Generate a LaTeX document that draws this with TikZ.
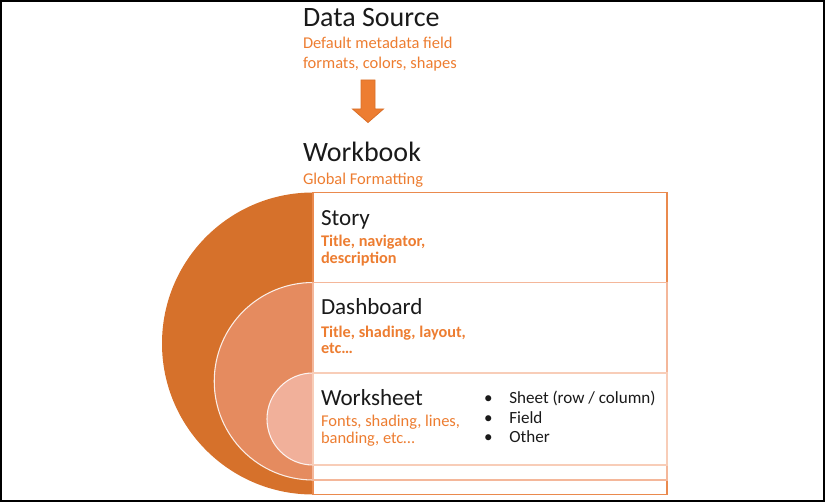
\documentclass[tikz,border=0pt]{standalone}
\usepackage{fontspec}
\setmainfont{Carlito}
\definecolor{cbig}{HTML}{D6712B}
\definecolor{cmid}{HTML}{E58B5F}
\definecolor{cin}{HTML}{F1B09A}
\definecolor{corange}{HTML}{ED7D31}
\definecolor{cstory}{HTML}{EA8A4E}
\definecolor{cdash}{HTML}{F4B79A}
\definecolor{cwork}{HTML}{F8CDB8}
\definecolor{carrowline}{HTML}{D9702A}
\definecolor{ctext}{HTML}{1A1A1A}
\begin{document}
\begin{tikzpicture}[x=0.75pt,y=-0.75pt,
  txt/.style={anchor=base west, inner sep=0pt, outer sep=0pt, text=ctext},
  headbig/.style={txt, font=\fontsize{21}{25}\selectfont},
  headmid/.style={txt, font=\fontsize{17.3}{20}\selectfont},
  subreg/.style={txt, text=corange, font=\fontsize{12.35}{14}\selectfont},
  subbold/.style={txt, text=corange, font=\fontsize{12.2}{14}\selectfont\bfseries},
  bul/.style={txt, font=\fontsize{12.8}{15}\selectfont},
  boxline/.style={line width=1pt, fill=white}]
\useasboundingbox (0,0) rectangle (826,502);
\draw[black, line width=1.5pt] (0.9,0.9) rectangle (824.3,500.6);

% nested half discs
\fill[cbig] (313,192.5) arc[start angle=270, end angle=90, radius=151] -- cycle;
\filldraw[fill=cmid, draw=white!85!cmid, line width=0.8pt] (313,282.5) arc[start angle=270, end angle=90, radius=98.75] -- cycle;
\filldraw[fill=cin, draw=white!85!cin, line width=0.8pt] (313,373) arc[start angle=270, end angle=90, radius=46] -- cycle;

% nested boxes
\draw[boxline, draw=cstory] (313,192.5) rectangle (667,494.5);
\draw[boxline, draw=cdash] (313,282.5) rectangle (667,480);
\draw[boxline, draw=cwork] (313,373) rectangle (667,465);

% arrow
\filldraw[fill=corange, draw=carrowline, line width=0.6pt]
  (361,80) -- (375,80) -- (375,109) -- (383.5,109) -- (368,122.5) -- (352.5,109) -- (361,109) -- cycle;

% texts
\node[headbig] (ds) at (303,26.7) {Data Source};
\node[subreg] (ds1) at (303,49) {Default metadata field};
\node[subreg] (ds2) at (303,68.3) {formats, colors, shapes};
\node[headbig] (wb) at (303,161.7) {Workbook};
\node[subreg] (wb1) at (303,185) {Global Formatting};

\node[headmid] (st) at (321,226) {Story};
\node[subbold] (st1) at (321,246.7) {Title, navigator,};
\node[subbold] (st2) at (321,263.3) {description};

\node[headmid] (db) at (321,315) {Dashboard};
\node[subbold] (db1) at (321,337.7) {Title, shading, layout,};
\node[subbold] (db2) at (321,354) {etc…};

\node[headmid] (ws) at (321,406) {Worksheet};
\node[subreg] (ws1) at (321,426.7) {Fonts, shading, lines,};
\node[subreg] (ws2) at (321,444) {banding, etc…};

\node[bul] (b1) at (484,403.3) {•};
\node[bul] (b2) at (484,423.3) {•};
\node[bul] (b3) at (484,442.7) {•};
\node[bul] (t1) at (509.3,403.3) {Sheet (row / column)};
\node[bul] (t2) at (509.3,423.3) {Field};
\node[bul] (t3) at (509.3,442.7) {Other};
\end{tikzpicture}
\end{document}
